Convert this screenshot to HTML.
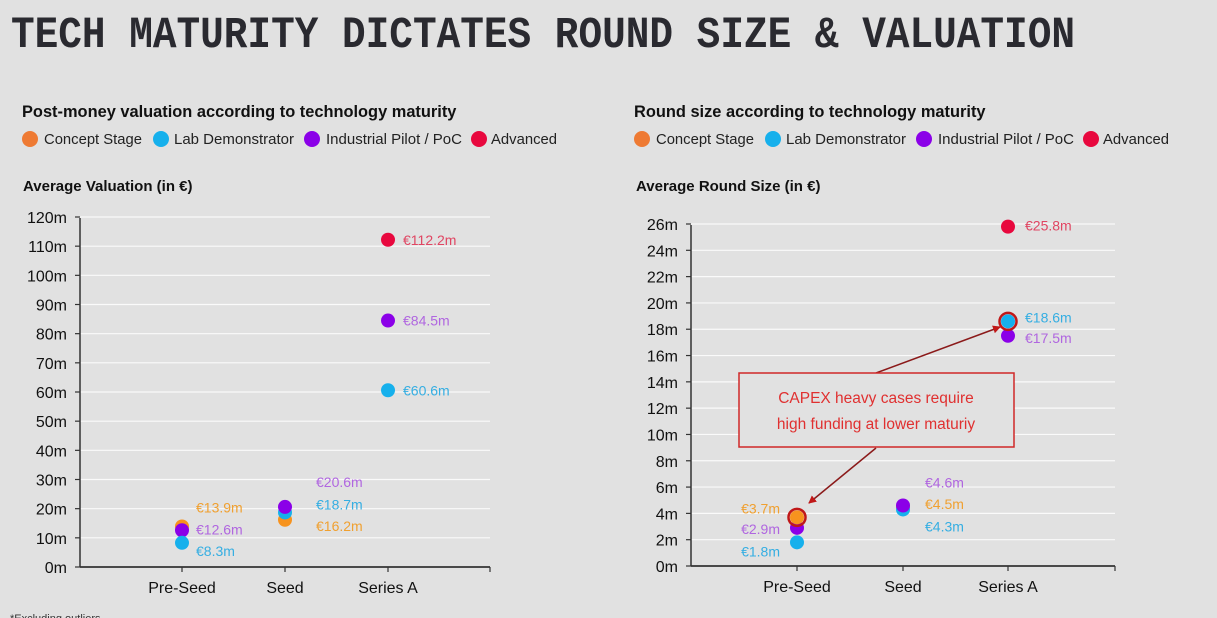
<!DOCTYPE html>
<html><head><meta charset="utf-8"><style>
body{margin:0;background:#e1e1e1;width:1217px;height:618px;overflow:hidden;font-family:"Liberation Sans",sans-serif}
svg{position:absolute;left:0;top:0}
</style></head><body>
<svg id="s" width="1217" height="618" xmlns="http://www.w3.org/2000/svg">
<text x="11" y="47" font-family="Liberation Mono,monospace" font-size="39" font-weight="bold" fill="#2a2a30" textLength="1064" lengthAdjust="spacingAndGlyphs" transform="translate(0,-7) scale(1,1.15)">TECH MATURITY DICTATES ROUND SIZE &amp; VALUATION</text>
<text x="22" y="117" font-size="16.4" font-weight="bold" fill="#111">Post-money valuation according to technology maturity</text>
<text x="634" y="117" font-size="16.4" font-weight="bold" fill="#111">Round size according to technology maturity</text>
<text x="23" y="191" font-size="15" font-weight="bold" fill="#111">Average Valuation (in €)</text>
<text x="636" y="191" font-size="15" font-weight="bold" fill="#111">Average Round Size (in €)</text>
<text x="10" y="622" font-size="11" fill="#333">*Excluding outliers</text>
</svg>
<script>
const NS='http://www.w3.org/2000/svg';
const svg=document.getElementById('s');
const categories=['Pre-Seed','Seed','Series A'];
const seriesNames=['Concept Stage','Lab Demonstrator','Industrial Pilot / PoC','Advanced'];
const leftTicks=[0,10,20,30,40,50,60,70,80,90,100,110,120];
const rightTicks=[0,2,4,6,8,10,12,14,16,18,20,22,24,26];
// valuation values
const valCat=[0,0,0,1,1,1,2,2,2];
const valSer=[0,2,1,0,1,2,3,2,1];
const valVal=[13.9,12.6,8.3,16.2,18.7,20.6,112.2,84.5,60.6];
// round size values
const rsCat=[0,0,0,1,1,1,2,2,2];
const rsSer=[1,2,0,0,1,2,3,1,2];
const rsVal=[1.8,2.9,3.7,4.5,4.3,4.6,25.8,18.6,17.5];

const dotCol=['#f7931e','#16b0ec','#8b00e8','#e8083e'];
const legCol=['#ee7a33','#16b0ec','#8b00e8','#e8083e'];
const labCol=['#f0a030','#35aee2','#b066e0','#e04562'];

function el(tag,attrs,parent){const e=document.createElementNS(NS,tag);for(const k in attrs)e.setAttribute(k,attrs[k]);(parent||svg).appendChild(e);return e;}

function legend(x0,y,name){
  const g=el('g',{});
  
  
  const cxs=[8,139,290,457],txs=[22,152,304,469],tw=[98,120,136,66];
  seriesNames.forEach((n,i)=>{
    const c=el('circle',{cx:x0+cxs[i],cy:y,r:8,fill:legCol[i]},g);
    
    
    const t=el('text',{x:x0+txs[i],y:y+5,'font-size':15,fill:'#222',textLength:tw[i],lengthAdjust:'spacingAndGlyphs'},g);
    t.textContent=n;
    
    
  });
}
legend(22,139,'left-legend');
legend(634,139,'right-legend');

function chart(o){
  const y=v=>o.y0-(v-o.min)/(o.max-o.min)*(o.y0-o.y1);
  const x=i=>o.cx[i];
  const g=el('g',{});
  
  
  o.ticks.forEach(t=>{
    if(t>0){const l=el('line',{x1:o.ax,x2:o.axEnd,y1:y(t),y2:y(t),stroke:'#fafafa','stroke-width':1.2},g);
      
      }
    el('line',{x1:o.ax-5,x2:o.ax,y1:y(t),y2:y(t),stroke:'#333','stroke-width':1.2},g);
    const tx=el('text',{x:o.ax-13,y:y(t)+6,'font-size':16,fill:'#111','text-anchor':'end'},g);
    tx.textContent=t+'m';
    
    
  });
  el('line',{x1:o.ax,x2:o.ax,y1:y(o.max)+1,y2:o.y0,stroke:'#333','stroke-width':1.5},g);
  el('line',{x1:o.ax,x2:o.axEnd,y1:o.y0,y2:o.y0,stroke:'#333','stroke-width':1.8},g);
  el('line',{x1:o.axEnd,x2:o.axEnd,y1:o.y0,y2:o.y0+5,stroke:'#333','stroke-width':1.2},g);
  categories.forEach((c,i)=>{
    el('line',{x1:x(i),x2:x(i),y1:o.y0,y2:o.y0+5,stroke:'#333','stroke-width':1.2},g);
    const t=el('text',{x:x(i),y:o.y0+26,'font-size':16,fill:'#111','text-anchor':'middle'},g);
    t.textContent=c;
    
    
  });
  o.cat.forEach((ci,k)=>{
    const s=o.ser[k],v=o.val[k];
    const py=y(v),px=x(ci);
    const d=el('circle',{cx:px,cy:py,r:7,fill:dotCol[s]},g);
    
    
    const lb=el('text',{x:px+o.ldx[k],y:py+o.ldy[k]+5,'font-size':14,fill:labCol[s],'text-anchor':o.ldx[k]<0?'end':'start'},g);
    lb.textContent='€'+v.toFixed(1)+'m';
    
    
  });
  return {x,y};
}
chart({name:'valuation-chart',ax:80,axEnd:490,y0:567,y1:217,min:0,max:120,ticks:leftTicks,cx:[182,285,388],
  cat:valCat,ser:valSer,val:valVal,
  ldx:[14,14,14,31,31,31,15,15,15],ldy:[-19,-1,8,6,-8,-25,0,0,0]});
const R=chart({name:'round-size-chart',ax:691,axEnd:1115,y0:566,y1:224,min:0,max:26,ticks:rightTicks,cx:[797,903,1008],
  cat:rsCat,ser:rsSer,val:rsVal,
  ldx:[-17,-17,-17,22,22,22,17,17,17],ldy:[9,1,-9,-3,17,-23,-1,-4,2]});

[[2,18.6],[0,3.7]].forEach(([ci,v])=>{
  const c=el('circle',{cx:R.x(ci),cy:R.y(v),r:8.5,fill:'none',stroke:'#c01818','stroke-width':2.5});
  
  
});
const defs=el('defs',{});
const m=el('marker',{id:'ar',markerWidth:8,markerHeight:8,refX:7,refY:4,orient:'auto',markerUnits:'userSpaceOnUse'},defs);
el('path',{d:'M0,0 L8,4 L0,8 z',fill:'#c01818'},m);
const a1=el('line',{x1:876,y1:373,x2:1000,y2:327,stroke:'#8b1a1a','stroke-width':1.5,'marker-end':'url(#ar)'});


const a2=el('line',{x1:876,y1:448,x2:809,y2:503,stroke:'#8b1a1a','stroke-width':1.5,'marker-end':'url(#ar)'});


const box=el('rect',{x:739,y:373,width:275,height:74,fill:'#e1e1e1',stroke:'#d02828','stroke-width':1.5});


['CAPEX heavy cases require','high funding at lower maturiy'].forEach((t,i)=>{
  const tx=el('text',{x:876,y:403+i*26,'font-size':15.5,fill:'#e03030','text-anchor':'middle'});
  tx.textContent=t;
  
  
});
</script>
</body></html>
